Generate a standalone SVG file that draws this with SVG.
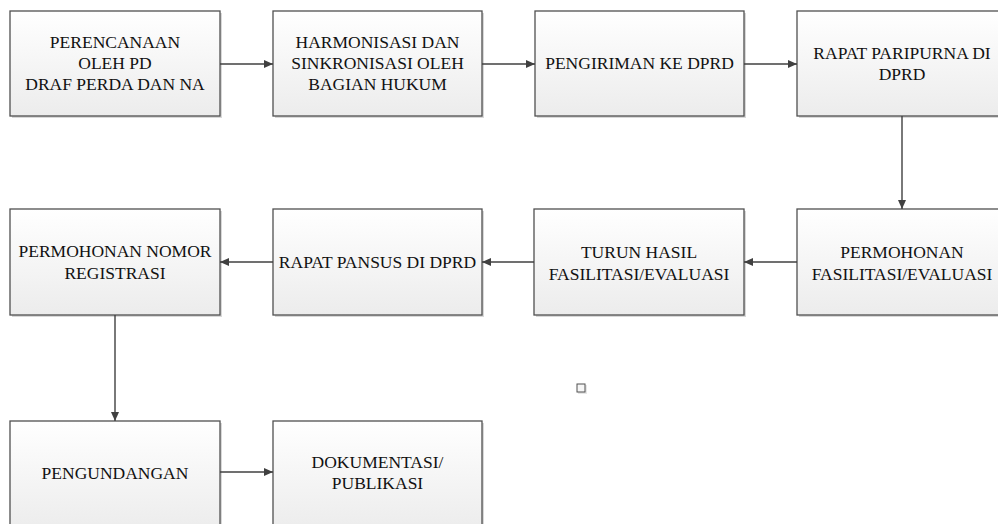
<svg xmlns="http://www.w3.org/2000/svg" width="998" height="524" viewBox="0 0 998 524">
<defs>
<linearGradient id="g" x1="0" y1="0" x2="0" y2="1">
<stop offset="0" stop-color="#ffffff"/>
<stop offset="1" stop-color="#ececec"/>
</linearGradient>
<marker id="ah" markerWidth="10" markerHeight="10" refX="9" refY="5" orient="auto" markerUnits="userSpaceOnUse">
<path d="M0,1 L9,5 L0,9 Z" fill="#404040"/>
</marker>
</defs>
<style>
.box{fill:url(#g);stroke:#505050;stroke-width:1.3}
.sh{fill:#d8d8d8}
.t{font-family:"Liberation Serif","Times New Roman",serif;font-size:17.5px;fill:#111;text-anchor:middle}
.c{stroke:#404040;stroke-width:1.4;fill:none;marker-end:url(#ah)}
</style>
<rect width="998" height="524" fill="#fff"/>
<g id="n1"><rect class="sh" x="12" y="13" width="210" height="105"/><rect class="box" x="10" y="11" width="210" height="105"/>
<text class="t" x="115" y="48">PERENCANAAN</text><text class="t" x="115" y="69">OLEH PD</text><text class="t" x="115" y="90">DRAF PERDA DAN NA</text></g>
<g id="n2"><rect class="sh" x="275" y="13" width="209" height="105"/><rect class="box" x="273" y="11" width="209" height="105"/>
<text class="t" x="377.5" y="48">HARMONISASI DAN</text><text class="t" x="377.5" y="69">SINKRONISASI OLEH</text><text class="t" x="377.5" y="90">BAGIAN HUKUM</text></g>
<g id="n3"><rect class="sh" x="537" y="13" width="209" height="105"/><rect class="box" x="535" y="11" width="209" height="105"/>
<text class="t" x="639.5" y="69">PENGIRIMAN KE DPRD</text></g>
<g id="n4"><rect class="sh" x="799" y="13" width="210" height="105"/><rect class="box" x="797" y="11" width="210" height="105"/>
<text class="t" x="902" y="59">RAPAT PARIPURNA DI</text><text class="t" x="902" y="80">DPRD</text></g>
<g id="n5"><rect class="sh" x="799" y="211" width="210" height="106"/><rect class="box" x="797" y="209" width="210" height="106"/>
<text class="t" x="902" y="258">PERMOHONAN</text><text class="t" x="902" y="280">FASILITASI/EVALUASI</text></g>
<g id="n6"><rect class="sh" x="536" y="211" width="210" height="106"/><rect class="box" x="534" y="209" width="210" height="106"/>
<text class="t" x="639" y="258">TURUN HASIL</text><text class="t" x="639" y="280">FASILITASI/EVALUASI</text></g>
<g id="n7"><rect class="sh" x="275" y="211" width="209" height="106"/><rect class="box" x="273" y="209" width="209" height="106"/>
<text class="t" x="377.5" y="268">RAPAT PANSUS DI DPRD</text></g>
<g id="n8"><rect class="sh" x="12" y="211" width="210" height="106"/><rect class="box" x="10" y="209" width="210" height="106"/>
<text class="t" x="115" y="257">PERMOHONAN NOMOR</text><text class="t" x="115" y="279">REGISTRASI</text></g>
<g id="n9"><rect class="sh" x="12" y="423" width="210" height="110"/><rect class="box" x="10" y="421" width="210" height="110"/>
<text class="t" x="115" y="479">PENGUNDANGAN</text></g>
<g id="n10"><rect class="sh" x="275" y="423" width="209" height="110"/><rect class="box" x="273" y="421" width="209" height="110"/>
<text class="t" x="377.5" y="468">DOKUMENTASI/</text><text class="t" x="377.5" y="489">PUBLIKASI</text></g>
<g id="n11"><rect x="578" y="385" width="9" height="9" fill="#e6e6e6"/><rect x="577" y="384" width="8" height="8" fill="#f6f6f6" stroke="#505050" stroke-width="1"/></g>
<g id="connectors">
<line class="c" x1="220" y1="64" x2="273" y2="64"/>
<line class="c" x1="482" y1="64" x2="535" y2="64"/>
<line class="c" x1="744" y1="64" x2="797" y2="64"/>
<line class="c" x1="902" y1="116" x2="902" y2="209"/>
<line class="c" x1="797" y1="262" x2="744" y2="262"/>
<line class="c" x1="534" y1="262" x2="482" y2="262"/>
<line class="c" x1="273" y1="262" x2="220" y2="262"/>
<line class="c" x1="115" y1="315" x2="115" y2="421"/>
<line class="c" x1="220" y1="472" x2="273" y2="472"/>
</g>
</svg>
